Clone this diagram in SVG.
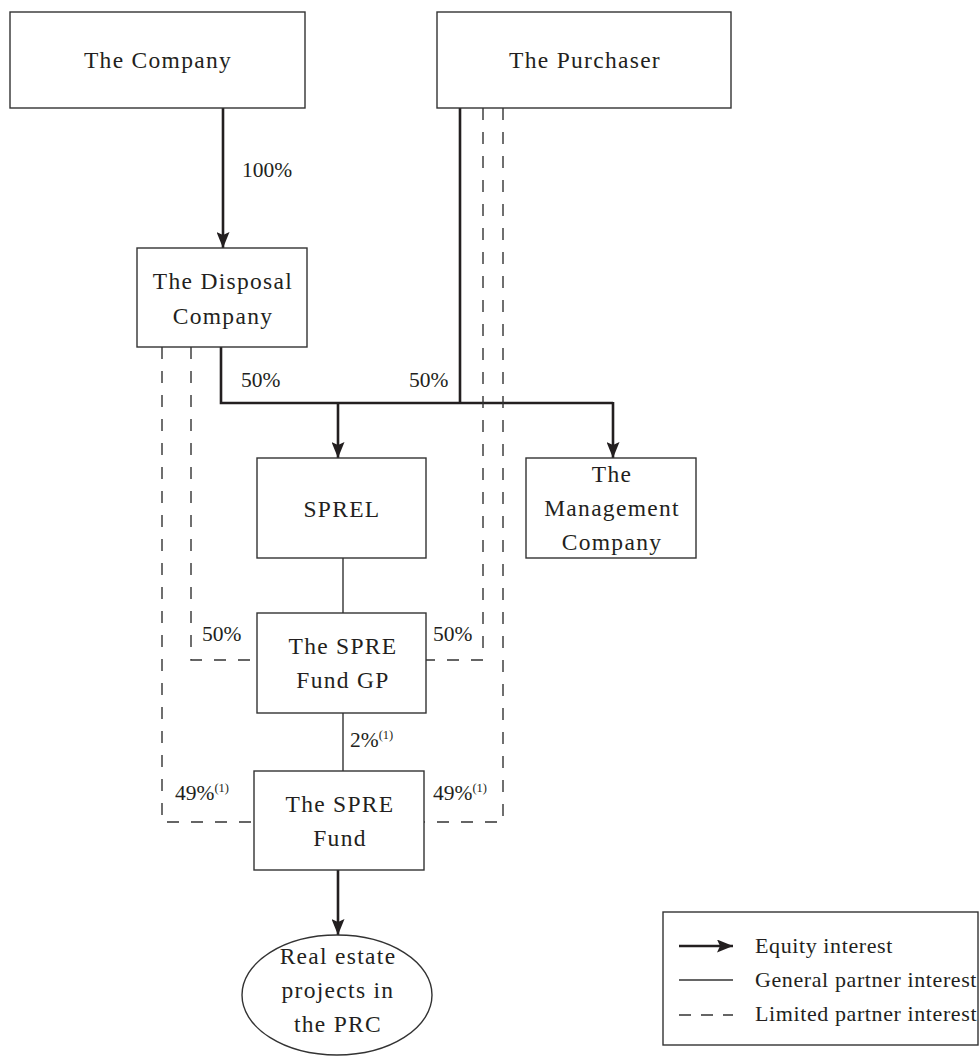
<svg xmlns="http://www.w3.org/2000/svg" width="979" height="1057" viewBox="0 0 979 1057">
<style>
  .box { fill: #ffffff; stroke: #333333; stroke-width: 1.4; }
  .lbl { font-family: "Liberation Serif", "Times New Roman", serif; font-size: 23.5px; letter-spacing: 1.3px; fill: #231f20; text-anchor: middle; }
  .pct { font-family: "Liberation Serif", "Times New Roman", serif; font-size: 21.5px; fill: #231f20; }
  .sup { font-size: 12.5px; }
  .leg { font-family: "Liberation Serif", "Times New Roman", serif; font-size: 22px; letter-spacing: 0.6px; fill: #231f20; }
  .eq { fill: none; stroke: #231f20; stroke-width: 2.6; }
  .gp { fill: none; stroke: #333333; stroke-width: 1.4; }
  .lp { fill: none; stroke: #333333; stroke-width: 1.4; stroke-dasharray: 12 12; }
</style>
<defs>
  <marker id="arr" viewBox="0 0 16 13" refX="16" refY="6.5" markerWidth="16" markerHeight="13" markerUnits="userSpaceOnUse" orient="auto">
    <path d="M0,0 L16,6.5 L0,13 L3,6.5 z" fill="#231f20"/>
  </marker>
</defs>
<rect width="979" height="1057" fill="#ffffff"/>

<g id="connectors">
  <line class="eq" x1="223" y1="108" x2="223" y2="248" marker-end="url(#arr)"/>
  <polyline class="eq" points="221,347 221,403 613,403"/>
  <line class="eq" x1="460" y1="108" x2="460" y2="403"/>
  <line class="eq" x1="613" y1="402" x2="613" y2="458" marker-end="url(#arr)"/>
  <line class="eq" x1="338" y1="403" x2="338" y2="458" marker-end="url(#arr)"/>
  <line class="eq" x1="338" y1="870" x2="338" y2="935" marker-end="url(#arr)"/>
  <line class="gp" x1="343" y1="558" x2="343" y2="613"/>
  <line class="gp" x1="343" y1="713" x2="343" y2="771"/>
  <polyline class="lp" points="191,347 191,660 257,660"/>
  <polyline class="lp" points="483,108 483,660 426,660"/>
  <polyline class="lp" points="162,347 162,822 254,822"/>
  <polyline class="lp" points="503,108 503,822 424,822"/>
  <text class="pct" x="242" y="177">100%</text>
  <text class="pct" x="241" y="387">50%</text>
  <text class="pct" x="409" y="387">50%</text>
  <text class="pct" x="202" y="641">50%</text>
  <text class="pct" x="433" y="641">50%</text>
  <text class="pct" x="350" y="747">2%<tspan class="sup" dy="-8">(1)</tspan></text>
  <text class="pct" x="175" y="800">49%<tspan class="sup" dy="-8">(1)</tspan></text>
  <text class="pct" x="433" y="800">49%<tspan class="sup" dy="-8">(1)</tspan></text>
</g>

<g id="company">
  <rect class="box" x="10" y="12" width="295" height="96"/>
  <text class="lbl" x="158" y="68">The Company</text>
</g>
<g id="purchaser">
  <rect class="box" x="437" y="12" width="294" height="96"/>
  <text class="lbl" x="585" y="68">The Purchaser</text>
</g>
<g id="disposal">
  <rect class="box" x="137" y="248" width="170" height="99"/>
  <text class="lbl" x="223" y="289">The Disposal</text>
  <text class="lbl" x="223" y="324">Company</text>
</g>
<g id="sprel">
  <rect class="box" x="257" y="458" width="169" height="100"/>
  <text class="lbl" x="342" y="517">SPREL</text>
</g>
<g id="management">
  <rect class="box" x="526" y="458" width="170" height="100"/>
  <text class="lbl" x="612" y="482">The</text>
  <text class="lbl" x="612" y="516">Management</text>
  <text class="lbl" x="612" y="550">Company</text>
</g>
<g id="fundgp">
  <rect class="box" x="257" y="613" width="169" height="100"/>
  <text class="lbl" x="343" y="654">The SPRE</text>
  <text class="lbl" x="343" y="688">Fund GP</text>
</g>
<g id="fund">
  <rect class="box" x="254" y="771" width="170" height="99"/>
  <text class="lbl" x="340" y="812">The SPRE</text>
  <text class="lbl" x="340" y="846">Fund</text>
</g>
<g id="projects">
  <ellipse class="box" cx="337" cy="995" rx="95" ry="60"/>
  <text class="lbl" x="338" y="964">Real estate</text>
  <text class="lbl" x="338" y="998">projects in</text>
  <text class="lbl" x="338" y="1032">the PRC</text>
</g>

<g id="legend">
  <rect class="box" x="663" y="912" width="315" height="133"/>
  <line class="eq" x1="679" y1="946" x2="733" y2="946" marker-end="url(#arr)"/>
  <line class="gp" x1="679" y1="980" x2="733" y2="980"/>
  <line class="lp" x1="679" y1="1015" x2="733" y2="1015" style="stroke-dasharray: 12 10"/>
  <text class="leg" x="755" y="953">Equity interest</text>
  <text class="leg" x="755" y="987">General partner interest</text>
  <text class="leg" x="755" y="1021">Limited partner interest</text>
</g>
</svg>
